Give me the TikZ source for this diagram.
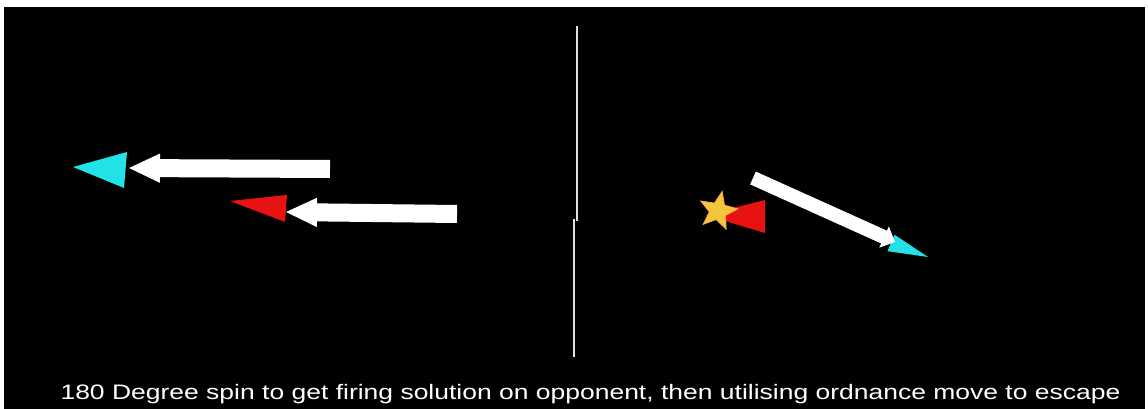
\documentclass[tikz,border=0pt]{standalone}
\usepackage{fontspec}
\setmainfont{Liberation Sans}
\newfontfamily\widesans[FakeStretch=1.265]{Liberation Sans}
\usetikzlibrary{arrows.meta,shapes.geometric}
\definecolor{spacebg}{HTML}{000000}
\definecolor{shipcyan}{HTML}{22E2E8}
\definecolor{shipred}{HTML}{E81212}
\definecolor{boomyel}{HTML}{F4C63C}
\definecolor{divgrey}{HTML}{E0E0E0}
\tikzset{
  ship/.style    ={draw=none},
  cyanship/.style={ship, fill=shipcyan},
  redship/.style ={ship, fill=shipred},
  movearr/.style ={draw=white, line width=13.5pt,
                   -{Triangle[length=24pt, width=20pt]}},
  slimarr/.style ={draw=white, line width=10.5pt,
                   -{Triangle[length=9pt, width=17pt]}},
  divider/.style ={draw=divgrey, line width=1.6pt},
  boom/.style    ={star, star points=5, star point ratio=2.3, fill=boomyel,
                   draw=orange!70, line width=0.6pt, minimum size=30pt,
                   inner sep=0pt, rotate=-12},
  caption/.style ={font=\widesans\fontsize{15.7}{19}\selectfont, text=white,
                   anchor=base, inner sep=0pt},
}
\begin{document}
\begin{tikzpicture}[x=0.75pt, y=-0.75pt]
  \useasboundingbox (0,0) rectangle (1148,409);
  \fill[white] (0,0) rectangle (1148,409);
  \fill[spacebg] (4,7) rectangle (1145,409);

  % before the spin
  \fill[cyanship] (73,167) -- (127,152) -- (124,188) -- cycle;
  \draw[movearr] (330,169) -- (128,168);
  \fill[redship] (230,201) -- (287,195) -- (285,222) -- cycle;
  \draw[movearr] (457,214) -- (285,212);

  % divider
  \draw[divider] (577,26) -- (577,221);
  \draw[divider] (574,219) -- (574,357);

  % after the spin
  \fill[redship] (705,215) -- (765,200) -- (765,233) -- cycle;
  \node[boom] (hit) at (718,211) {};
  \fill[cyanship] (928,257) -- (894.6,234.8) -- (887.4,251.2) -- cycle;
  \draw[slimarr] (753,178) -- (895,242);

  \node[caption] (note) at (590.5,399)
    {180 Degree spin to get firing solution on opponent, then utilising ordnance move to escape};
\end{tikzpicture}
\end{document}
